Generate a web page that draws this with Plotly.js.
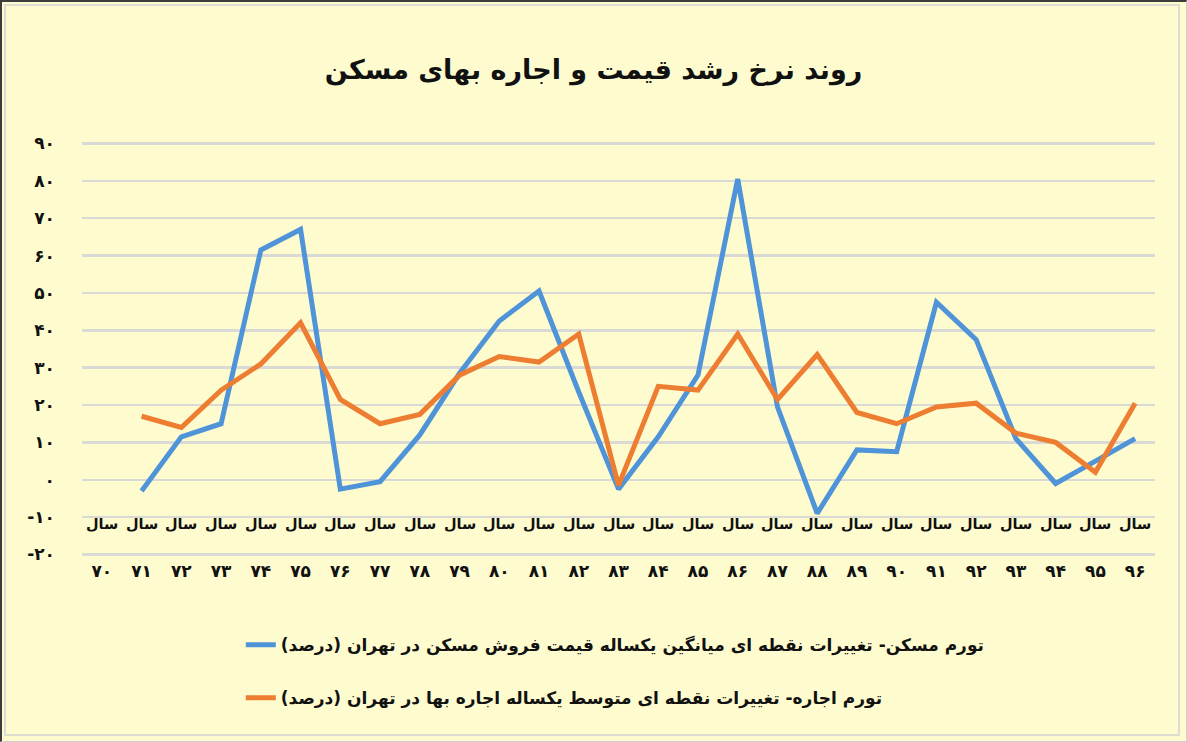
<!DOCTYPE html>
<html>
<head>
<meta charset="utf-8">
<script src="https://cdn.plot.ly/plotly-3.0.1.min.js"></script>
<style>
  html, body { margin: 0; padding: 0; background: #FEFCCF; }
  #wrap { position: relative; width: 1187px; height: 742px; }
  #chart { position: absolute; left: 0; top: 0; width: 1187px; height: 742px; }
  #frame1 { position: absolute; left: 0; top: 0; width: 1187px; height: 742px; box-sizing: border-box;
            border-style: solid; border-width: 2px 1px 1px 2px; border-color: #3c3c3c #cfcfcf #cfcfcf #3c3c3c; pointer-events: none; }
  #frame2 { position: absolute; left: 4px; top: 4px; width: 1176px; height: 732px; box-sizing: border-box;
            border: 2px solid #dcdcd0; pointer-events: none; }
</style>
</head>
<body>
<div id="wrap">
  <div id="chart"></div>
  <div id="frame1"></div>
  <div id="frame2"></div>
</div>
<script>
// Categories (years 1370..1396)
var years = ['70','71','72','73','74','75','76','77','78','79','80','81','82','83','84','85','86','87','88','89','90','91','92','93','94','95','96'];
var yearLabels = ['۷۰','۷۱','۷۲','۷۳','۷۴','۷۵','۷۶','۷۷','۷۸','۷۹','۸۰','۸۱','۸۲','۸۳','۸۴','۸۵','۸۶','۸۷','۸۸','۸۹','۹۰','۹۱','۹۲','۹۳','۹۴','۹۵','۹۶'];
var yearPrefix = 'سال';

// Housing price inflation (%)
var housingInflation = [null, -3, 11.5, 15, 61.5, 67, -2.5, -0.5, 12, 28.5, 42.5, 50.5, 23.5, -2.5, 11.5, 28, 80.5, 19.5, -9, 8, 7.5, 47.5, 37.5, 11, -1, 5, 11];
// Rent inflation (%)
var rentInflation = [null, 17, 14, 24, 31, 42, 21.5, 15, 17.5, 28, 33, 31.5, 39, -1.5, 25, 24, 39, 21.5, 33.5, 18, 15, 19.5, 20.5, 12.5, 10, 2, 20.5];

// Y ticks
var yTickVals = [-20, -10, 0, 10, 20, 30, 40, 50, 60, 70, 80, 90];
var yTickText = ['-۲۰', '-۱۰', '۰', '۱۰', '۲۰', '۳۰', '۴۰', '۵۰', '۶۰', '۷۰', '۸۰', '۹۰'];

var titleText = 'روند نرخ رشد قیمت و اجاره بهای مسکن';
var housingName = 'تورم مسکن- تغییرات نقطه ای میانگین یکساله قیمت فروش مسکن در تهران (درصد)';
var rentName = 'تورم اجاره- تغییرات نقطه ای متوسط یکساله اجاره بها در تهران (درصد)';

var RLM = '\u200F';
var FONT = 'DejaVu Sans, sans-serif';

var traces = [
  {
    type: 'scatter', mode: 'lines', x: years, y: housingInflation,
    name: RLM + housingName + RLM, legendgroup: 'a',
    line: { color: '#4F93D8', width: 5 }, connectgaps: false
  },
  {
    type: 'scatter', mode: 'lines', x: years, y: rentInflation,
    name: RLM + rentName + RLM, legendgroup: 'b',
    line: { color: '#ED7D31', width: 5 }, connectgaps: false
  }
];

// "سال" label above every year number (positioned by category index)
var annotations = years.map(function (yr, i) {
  return {
    x: i, y: -11.8, xref: 'x', yref: 'y', text: yearPrefix, showarrow: false,
    font: { family: FONT, size: 14.5, color: '#111', weight: 'bold' }
  };
});

var layout = {
  width: 1187, height: 742,
  margin: { l: 82, r: 32, t: 142, b: 186 },
  paper_bgcolor: '#FEFCCF', plot_bgcolor: '#FEFCCF',
  showlegend: true,
  title: {
    text: titleText, xref: 'container', x: 0.5, xanchor: 'center',
    yref: 'container', y: 1 - 70 / 742, yanchor: 'middle',
    font: { family: FONT, size: 27, color: '#111', weight: 'bold' }
  },
  xaxis: {
    type: 'category', range: [-0.5, 26.5],
    tickvals: years, ticktext: yearLabels,
    showgrid: false, zeroline: false, showline: false, ticks: '',
    ticklabelstandoff: 3,
    tickfont: { family: FONT, size: 17, color: '#111', weight: 'bold' }
  },
  yaxis: {
    range: [-20.4, 90.4],
    tickvals: yTickVals, ticktext: yTickText,
    showgrid: true, gridcolor: '#D9D9D6', gridwidth: 2.5,
    zeroline: false, showline: false, ticks: '',
    ticklabelstandoff: 26,
    tickfont: { family: FONT, size: 17, color: '#111', weight: 'bold' }
  },
  legend: {
    orientation: 'v', x: 0.148, xanchor: 'left', y: -0.172, yanchor: 'top',
    bgcolor: 'rgba(0,0,0,0)', tracegroupgap: 28, traceorder: 'grouped',
    font: { family: FONT, size: 17, color: '#111', weight: 'bold' }
  },
  annotations: annotations
};

Plotly.newPlot('chart', traces, layout, { displayModeBar: false, staticPlot: true });
</script>
</body>
</html>
